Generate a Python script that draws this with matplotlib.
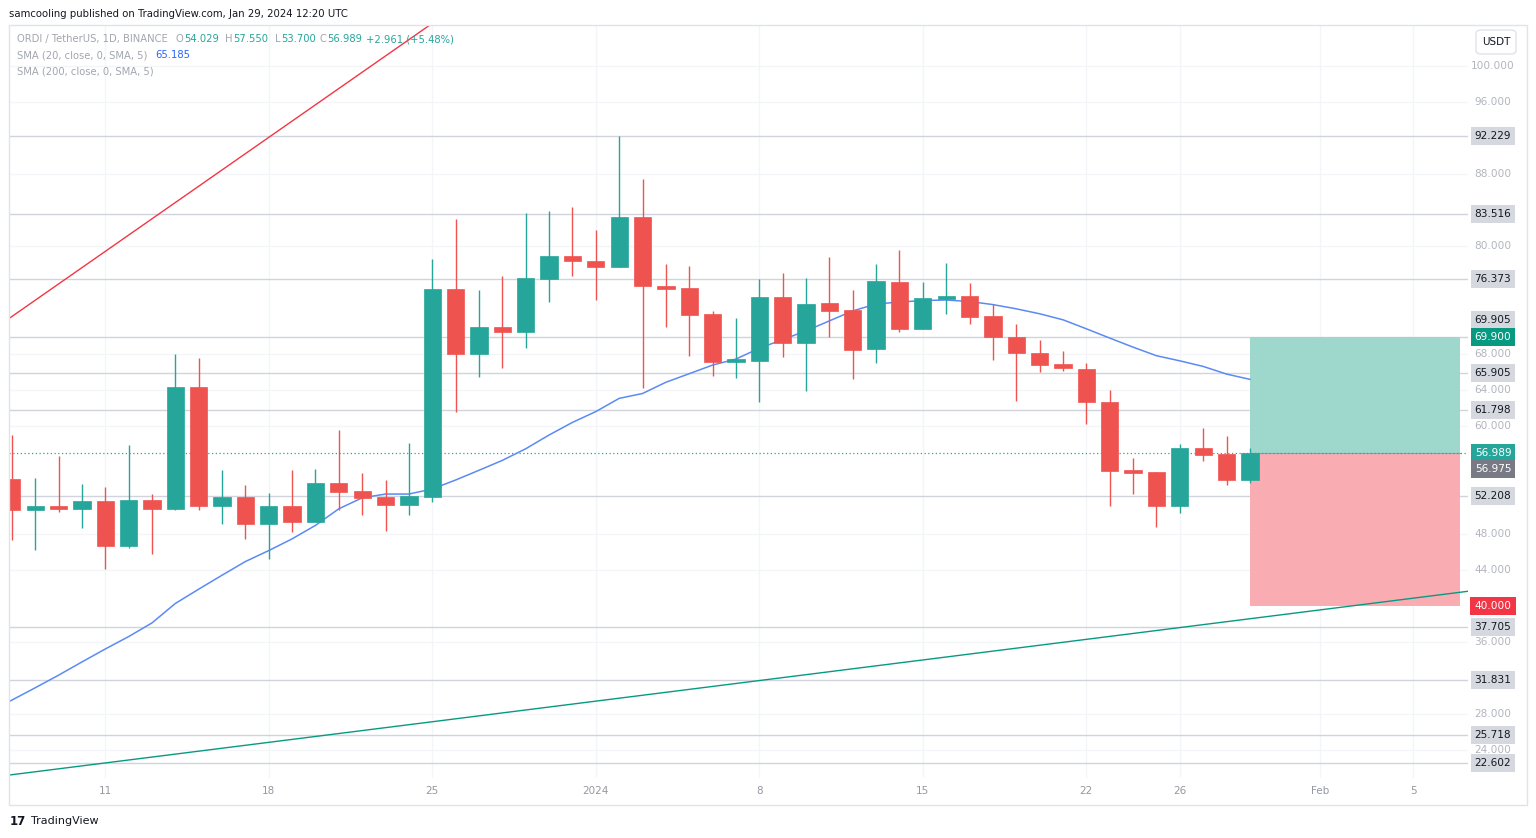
import matplotlib
matplotlib.use("Agg")
import matplotlib.pyplot as plt
import matplotlib.dates as mdates
from matplotlib.patches import Rectangle, FancyBboxPatch
import numpy as np
import pandas as pd

# ---------------- data ----------------
dates = pd.date_range("2023-12-07", "2024-01-29", freq="D")
opens = [54.08, 50.63, 51.11, 50.81, 51.63, 46.63, 51.74, 50.74, 64.37, 51.14,
         52.14, 49.08, 51.11, 49.33, 53.70, 52.78, 52.08, 51.26, 52.11, 75.22,
         68.00, 71.03, 70.48, 76.33, 78.89,
         78.37, 77.70, 83.19, 75.59, 75.37, 72.44, 67.14, 67.26, 74.30, 69.22,
         73.70, 72.85, 68.52, 75.96, 70.78, 74.15, 74.41, 72.22, 69.92, 68.08,
         66.89, 66.37, 62.67, 55.07, 54.85, 51.11, 57.59, 56.89, 54.029]
highs = [59.00, 54.19, 56.70, 53.56, 53.22, 57.89, 52.48, 67.97, 67.52, 55.11,
         53.41, 52.56, 55.11, 55.22, 59.52, 54.81, 54.00, 58.11, 78.52, 82.97,
         75.11, 76.70, 83.63, 83.93, 84.30,
         81.78, 92.23, 87.44, 78.00, 77.78, 72.78, 72.04, 76.30, 76.96, 76.41,
         78.81, 75.11, 77.96, 79.56, 75.96, 78.08, 75.85, 73.52, 71.30, 69.56,
         68.33, 67.04, 64.00, 56.41, 54.85, 58.00, 59.81, 58.92, 57.550]
lows = [47.33, 46.22, 50.48, 48.63, 44.14, 46.41, 45.81, 50.63, 50.63, 49.08,
        47.44, 45.19, 48.26, 49.30, 50.67, 50.11, 48.33, 50.11, 51.59, 61.59,
        65.48, 66.48, 68.70, 73.81, 76.67,
        74.00, 77.70, 64.19, 71.03, 67.81, 65.56, 65.37, 62.70, 67.63, 63.89,
        69.92, 65.19, 67.04, 70.48, 70.78, 72.48, 71.30, 67.33, 62.81, 66.00,
        66.08, 60.22, 51.11, 52.44, 48.81, 50.30, 56.11, 53.44, 53.700]
closes = [50.63, 51.11, 50.81, 51.63, 46.63, 51.74, 50.74, 64.37, 51.14, 52.14,
          49.08, 51.11, 49.33, 53.70, 52.70, 52.00, 51.26, 52.26, 75.22, 68.00,
          71.03, 70.48, 76.41, 78.89, 78.33,
          77.70, 83.19, 75.52, 75.19, 72.37, 67.14, 67.30, 74.30, 69.22, 73.59,
          72.78, 68.41, 76.07, 70.78, 74.19, 74.41, 72.15, 69.85, 68.08, 66.81,
          66.41, 62.67, 55.00, 54.81, 51.11, 57.59, 56.78, 54.03, 56.989]

sma_dates = pd.date_range("2023-12-06", "2024-01-29", freq="D")
sma20 = [28.19, 29.54, 30.91, 32.31, 33.78, 35.22, 36.60, 38.12, 40.28, 41.87,
         43.42, 44.94, 46.16, 47.46, 48.96, 50.80, 52.02, 52.44, 52.44, 53.00,
         54.00, 55.08, 56.18, 57.47, 59.00, 60.40,
         61.60, 63.07, 63.61, 64.86, 65.81, 66.77, 67.44, 68.64, 69.60, 70.57,
         71.68, 72.79, 73.56, 73.77, 73.94, 74.00, 73.83, 73.49, 73.02, 72.47,
         71.80, 70.80, 69.77, 68.76, 67.81, 67.24, 66.62, 65.77, 65.185]

hlines = [92.229, 83.516, 76.373, 69.905, 65.905, 61.798, 52.208,
          37.705, 31.831, 25.718, 22.602]
price_ticks = [100, 96, 88, 80, 68, 64, 60, 48, 44, 36, 28, 24]

red_trend_dates = ["2023-12-06", "2023-12-26"]
red_trend_vals = [70.35, 106.55]
green_trend_dates = ["2023-12-06 12:00", "2024-02-07 12:00"]
green_trend_vals = [21.09, 41.69]

entry, target, stop = 56.989, 69.900, 40.000
pos_dates = ["2024-01-29", "2024-02-07"]
last_price = 56.989
prev_close_label = 56.975

time_ticks = ["2023-12-11", "2023-12-18", "2023-12-25", "2024-01-01", "2024-01-08",
              "2024-01-15", "2024-01-22", "2024-01-26", "2024-02-01", "2024-02-05"]
time_labels = ["11", "18", "25", "2024", "8", "15", "22", "26", "Feb", "5"]

# ---------------- style ----------------
UP, DOWN = "#26a69a", "#ef5350"
W, H = 1536, 838
PXDAY = 23.36
X0 = 11.8  # pixel of first candle
plt.rcParams["font.family"] = ["DejaVu Sans"]

fig = plt.figure(figsize=(W / 100, H / 100), dpi=100)
fig.patch.set_facecolor("white")

def fx(px):
    return px / W

def fy(py):
    return 1 - py / H

# outer frame
fig.add_artist(Rectangle((fx(9), fy(805)), fx(1527) - fx(9), fy(25) - fy(805),
                         transform=fig.transFigure, fill=False, ec="#e0e3eb", lw=1))

ax = fig.add_axes([fx(9), fy(778), fx(1468) - fx(9), fy(25) - fy(778)])
ax.set_facecolor("white")
for s in ax.spines.values():
    s.set_visible(False)

xd = mdates.date2num(dates)
d0 = xd[0]
ax.set_xlim(d0 - (X0 - 9) / PXDAY, d0 + (1468 - X0) / PXDAY)
ax.set_ylim(100 - (778 - 66) / 9, 100 + (66 - 25) / 9)

# faint grid
for t in time_ticks:
    ax.axvline(mdates.date2num(pd.Timestamp(t)), color="#f4f5f8", lw=1, zorder=0)
for p in price_ticks:
    ax.axhline(p, color="#f4f5f8", lw=1, zorder=0)

# horizontal drawn lines
for hv in hlines:
    ax.axhline(hv, color="#d1d4dc", lw=1.0, zorder=1)

# position box
px0, px1 = [mdates.date2num(pd.Timestamp(d)) for d in pos_dates]
ax.add_patch(Rectangle((px0, entry), px1 - px0, target - entry, fc="#9ed7cc", ec="none", zorder=2))
ax.add_patch(Rectangle((px0, stop), px1 - px0, entry - stop, fc="#f9adb3", ec="none", zorder=2))
ax.plot([px0, px1], [entry, entry], color="#8fa7a3", lw=0.8, zorder=2.1)

# trend lines
ax.plot(mdates.date2num(pd.to_datetime(red_trend_dates)), red_trend_vals, color="#f23645", lw=1, zorder=3)
ax.plot(mdates.date2num(pd.to_datetime(green_trend_dates)), green_trend_vals, color="#089981", lw=1, zorder=3)

# SMA
ax.plot(mdates.date2num(sma_dates), sma20, color="#5b8af5", lw=1.1, zorder=4)

# last price dotted
ax.axhline(last_price, color="#26a69a", lw=0.9, ls=(0, (1, 2)), zorder=3)

# candles
o, h_, l_, c = map(np.array, (opens, highs, lows, closes))
cols = np.where(c >= o, UP, DOWN)
ax.vlines(xd, l_, h_, colors=cols, lw=1, zorder=5)
bottoms = np.minimum(o, c)
heights = np.maximum(np.abs(c - o), 0.3)
ax.bar(xd, heights, bottom=bottoms, width=0.74, color=cols, edgecolor=cols, lw=0.5, zorder=6)

ax.set_xticks([])
ax.set_yticks([])

# time axis labels
tr_x = ax.get_xaxis_transform()
for t, lab in zip(time_ticks, time_labels):
    ax.text(mdates.date2num(pd.Timestamp(t)), -(791 - 778) / (778 - 25), lab,
            transform=tr_x, ha="center", va="center", fontsize=7.5, color="#9598a1", clip_on=False)

# price axis
tr_y = ax.get_yaxis_transform()
lx = (1493 - 9) / (1468 - 9)
for p in price_ticks:
    ax.text(lx, p, f"{p:.3f}", transform=tr_y, ha="center", va="center",
            fontsize=7.6, color="#b2b5be", clip_on=False)

label_specs = []
for v in hlines:
    label_specs.append((v, "#d5d8de", "#131722", -17 if abs(v - 69.905) < 1e-6 else 0))
label_specs += [(target, "#089981", "white", 0), (last_price, "#26a69a", "white", 0),
                (prev_close_label, "#787b86", "white", 16), (stop, "#f23645", "white", 0)]
for v, bg, fg, off in label_specs:
    ax.annotate(f"{v:.3f}", xy=(lx, v), xycoords=tr_y, xytext=(0, -off),
                textcoords="offset pixels", ha="center", va="center", fontsize=7.6,
                color=fg, annotation_clip=False,
                bbox=dict(boxstyle="square,pad=0.38", fc=bg, ec="none"))

# USDT box
fig.add_artist(FancyBboxPatch((fx(1476), fy(54)), fx(40), fy(30) - fy(54),
                              boxstyle="round,pad=0,rounding_size=0.004",
                              transform=fig.transFigure, fc="white", ec="#e0e3eb", lw=1))
fig.text(fx(1496), fy(42), "USDT", ha="center", va="center", fontsize=7.5, color="#131722")

# header
fig.text(fx(9), fy(14), "samcooling published on TradingView.com, Jan 29, 2024 12:20 UTC",
         ha="left", va="center", fontsize=7.3, color="#131722")

# legend rows
GRAY = "#a3a6af"
TEAL = "#26a69a"
LFS = 7.2
row1 = [("ORDI / TetherUS, 1D, BINANCE", 17, GRAY), ("O", 176, GRAY), ("54.029", 184, TEAL),
        ("H", 225, GRAY), ("57.550", 233, TEAL), ("L", 275, GRAY), ("53.700", 281, TEAL),
        ("C", 319, GRAY), ("56.989", 327, TEAL), ("+2.961 (+5.48%)", 366, TEAL)]
for txt, x, col in row1:
    fig.text(fx(x), fy(39), txt, ha="left", va="center", fontsize=LFS, color=col)
fig.text(fx(17), fy(55), "SMA (20, close, 0, SMA, 5)", ha="left", va="center", fontsize=LFS, color=GRAY)
fig.text(fx(155), fy(55), "65.185", ha="left", va="center", fontsize=LFS, color="#2962ff")
fig.text(fx(17), fy(71), "SMA (200, close, 0, SMA, 5)", ha="left", va="center", fontsize=LFS, color=GRAY)

# footer
fig.text(fx(10), fy(821), "17", ha="left", va="center", fontsize=8.5, color="#131722", fontweight="bold")
fig.text(fx(31), fy(821), "TradingView", ha="left", va="center", fontsize=8, color="#131722")

fig.savefig("out.png", dpi=100, facecolor="white")
